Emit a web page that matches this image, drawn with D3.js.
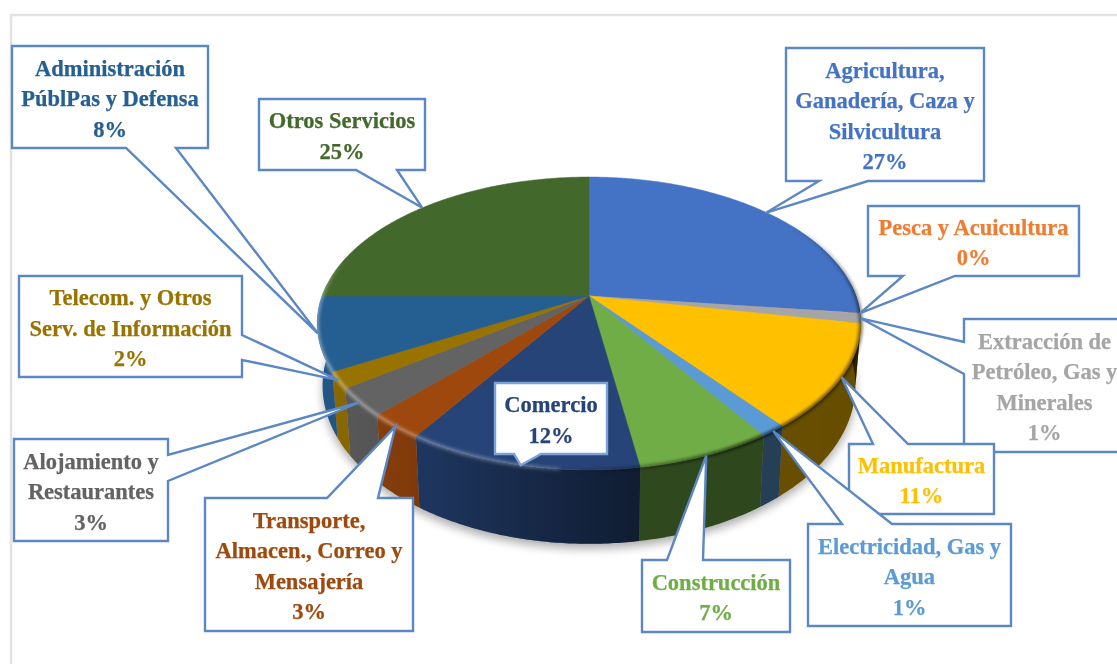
<!DOCTYPE html>
<html>
<head>
<meta charset="utf-8">
<script src="https://cdn.jsdelivr.net/npm/d3@7"></script>
<style>
  html, body { margin: 0; padding: 0; background: #fff; overflow: hidden; }
  text { font-family: "Liberation Serif", serif; font-weight: bold; font-size: 22.5px; }
</style>
</head>
<body>
<div id="chart"></div>
<script>
/* * * * * * * * DATA * * * * * * * */

// slice order follows the picture, clockwise from 12 o'clock
let categories = [
    ["Agricultura,", "Ganadería, Caza y", "Silvicultura"],
    ["Pesca y Acuicultura"],
    ["Extracción de", "Petróleo, Gas y", "Minerales"],
    ["Manufactura"],
    ["Electricidad, Gas y", "Agua"],
    ["Construcción"],
    ["Comercio"],
    ["Transporte,", "Almacen., Correo y", "Mensajería"],
    ["Alojamiento y", "Restaurantes"],
    ["Telecom. y Otros", "Serv. de Información"],
    ["Administración", "PúblPas y Defensa"],
    ["Otros Servicios"]
];
let values = [26.88, 0.02, 1.1, 11.4, 1.3, 6.8, 11.7, 2.8, 3.1, 1.8, 8.1, 25];
let colors = ["#4472c4", "#ed7d31", "#a5a5a5", "#ffc000", "#5b9bd5", "#70ad47",
              "#264478", "#9e480e", "#636363", "#997300", "#255e91", "#43682b"];

// callout boxes: x0, y0, x1, y1, side the pointer leaves from, pointer base start/end
let boxes = [
    [786, 48, 984, 181, "bottom", 819, 868],
    [868, 206, 1079, 276, "bottom", 903, 955],
    [964, 319, 1125, 452, "left", 342, 374],
    [849, 444, 994, 514, "top", 873, 908],
    [808, 524, 1011, 626, "top", 842, 892],
    [642, 560, 790, 632, "top", 667, 703],
    [495, 383, 607, 454, "bottom", 514, 541],
    [205, 498, 413, 631, "top", 327, 378],
    [14, 439, 168, 541, "right", 455, 481],
    [19, 276, 242, 377, "right", 335, 360],
    [12, 46, 208, 148, "bottom", 126, 176],
    [259, 99, 425, 170, "bottom", 356, 397]
];

/* * * * * * * * SETUP * * * * * * * */

const width = 1117;
const height = 664;

// pie geometry, tilted with a bit of perspective
const cx = 589;
const cy = 296;
const radiusX = 267;
const radiusY = 141.3;
const persp = 0.1877;
const depth = 60;
const lineH = 30.5;

let svg = d3.select("#chart").append("svg")
    .attr("width", width)
    .attr("height", height);

let defs = svg.append("defs");

defs.append("filter").attr("id", "softShadow")
    .attr("x", "-20%").attr("y", "-20%").attr("width", "140%").attr("height", "140%")
    .append("feGaussianBlur").attr("stdDeviation", 5);

defs.append("filter").attr("id", "rimBlur")
    .attr("filterUnits", "userSpaceOnUse")
    .attr("x", 0).attr("y", 0).attr("width", width).attr("height", height)
    .append("feGaussianBlur").attr("stdDeviation", 1.4);

defs.append("filter").attr("id", "soft")
    .attr("filterUnits", "userSpaceOnUse")
    .attr("x", 0).attr("y", 0).attr("width", width).attr("height", height)
    .append("feGaussianBlur").attr("stdDeviation", 0.35);

// the side wall gets darker from left to right
let sideShade = defs.append("linearGradient").attr("id", "sideShade")
    .attr("gradientUnits", "userSpaceOnUse")
    .attr("x1", 320).attr("x2", 860).attr("y1", 0).attr("y2", 0);
[[0, 0.08], [0.18, 0.2], [0.37, 0.38], [0.58, 0.58], [1, 0.6]].forEach(s => {
    sideShade.append("stop").attr("offset", s[0]).attr("stop-color", "#000").attr("stop-opacity", s[1]);
});

// helper functions
function project(angle) {
    let u = Math.sin(angle);
    let v = -Math.cos(angle);
    let w = 1 - persp * v;
    return [cx + radiusX * u / w, cy + radiusY * v / w];
}

function projectBottom(angle) {
    let p = project(angle);
    let w = 1 + persp * Math.cos(angle);
    return [cx + (p[0] - cx) * 0.98, p[1] + depth / w];
}

function angles(a0, a1) {
    let n = Math.max(2, Math.ceil((a1 - a0) / 0.01));
    return d3.range(n + 1).map(i => a0 + (a1 - a0) * i / n);
}

let line = d3.line();

let slices = d3.pie().sort(null).value(d => d)(values);

const rad = Math.PI / 180;
const sideStart = 85 * rad;
const sideEnd = 275 * rad;

function sidePath(d) {
    let a0 = Math.max(d.startAngle, sideStart);
    let a1 = Math.min(d.endAngle, sideEnd);
    if (a1 <= a0) return null;
    let as = angles(a0, a1);
    return line(as.map(project).concat(as.slice().reverse().map(projectBottom))) + "Z";
}

function topPath(d) {
    return line([[cx, cy]].concat(angles(d.startAngle, d.endAngle).map(project))) + "Z";
}

function calloutPath(b, tip) {
    let [x0, y0, x1, y1, side, s, e] = b;
    let pts = [[x0, y0]];
    if (side === "top") pts.push([s, y0], tip, [e, y0]);
    pts.push([x1, y0]);
    if (side === "right") pts.push([x1, s], tip, [x1, e]);
    pts.push([x1, y1]);
    if (side === "bottom") pts.push([e, y1], tip, [s, y1]);
    pts.push([x0, y1]);
    if (side === "left") pts.push([x0, e], tip, [x0, s]);
    return line(pts) + "Z";
}

// bevel strength along the rim, by angle in degrees: dark on the right, light on the left
let rimDark = d3.scaleLinear().domain([55, 100, 150, 175, 185]).range([0, 0.45, 0.55, 0.2, 0]).clamp(true);
let rimLight = d3.scaleLinear().domain([175, 190, 240, 270, 285]).range([0, 0.2, 0.32, 0.3, 0]).clamp(true);

/* * * * * * * * DRAW * * * * * * * */

// frame of the original chart area
svg.append("path")
    .attr("d", line([[11, height], [11, 15], [width, 15]]))
    .attr("fill", "none")
    .attr("stroke", "#e2e2e2")
    .attr("stroke-width", 2.5);

// soft shadow below the pie
svg.append("path")
    .attr("d", line(angles(0, 2 * Math.PI).map(a => {
        let p = projectBottom(a);
        return [p[0], p[1] + 5];
    })) + "Z")
    .attr("fill", "#000")
    .attr("opacity", 0.32)
    .attr("filter", "url(#softShadow)");

// side walls
let pie = svg.append("g");
pie.selectAll(".side").data(slices).enter().append("path")
    .attr("class", "side")
    .attr("d", sidePath)
    .attr("fill", (d, i) => colors[i]);
pie.selectAll(".sideShade").data(slices).enter().append("path")
    .attr("class", "sideShade")
    .attr("d", sidePath)
    .attr("fill", "url(#sideShade)");

// top faces (the Pesca sliver is too thin to show in the picture, so no stroke on it)
pie.selectAll(".top").data(slices).enter().append("path")
    .attr("class", "top")
    .attr("d", topPath)
    .attr("fill", (d, i) => colors[i])
    .attr("stroke", (d, i) => i === 1 ? "none" : colors[i])
    .attr("stroke-width", 0.5);

// rim bevel, short pieces so the strength can change along the rim
let rimSteps = d3.range(55, 285, 1);
pie.append("g")
    .attr("filter", "url(#rimBlur)")
    .selectAll("path").data(rimSteps).enter().append("path")
    .attr("d", a => line([project(a * rad), project((a + 1.2) * rad)]))
    .attr("fill", "none")
    .attr("stroke", a => rimDark(a) > 0 ? "#000" : "#fff")
    .attr("stroke-opacity", a => rimDark(a) > 0 ? rimDark(a) : rimLight(a))
    .attr("stroke-width", 4);

// callouts
let callouts = svg.append("g").selectAll("g").data(slices).enter().append("g");

callouts.append("path")
    .attr("d", (d, i) => calloutPath(boxes[i], project((d.startAngle + d.endAngle) / 2)))
    .attr("fill", "#fff")
    .attr("stroke", (d, i) => i === 6 ? "#7ba3d8" : "#5b87c5")
    .attr("stroke-width", 2.4)
    .attr("stroke-linejoin", "miter")
    .attr("filter", "url(#soft)");

callouts.each(function (d, i) {
    let b = boxes[i];
    let lines = categories[i].concat([Math.round(values[i]) + "%"]);
    let tx = (b[0] + b[2]) / 2;
    let top = (b[1] + b[3]) / 2 + 1.8 - lineH * (lines.length - 1) / 2;
    d3.select(this).selectAll("text").data(lines).enter().append("text")
        .attr("x", tx)
        .attr("y", (l, j) => top + j * lineH)
        .attr("dy", "0.32em")
        .attr("text-anchor", "middle")
        .attr("fill", colors[i])
        .attr("stroke", colors[i])
        .attr("stroke-width", 0.25)
        .attr("filter", "url(#soft)")
        .text(l => l);
});
</script>
</body>
</html>
